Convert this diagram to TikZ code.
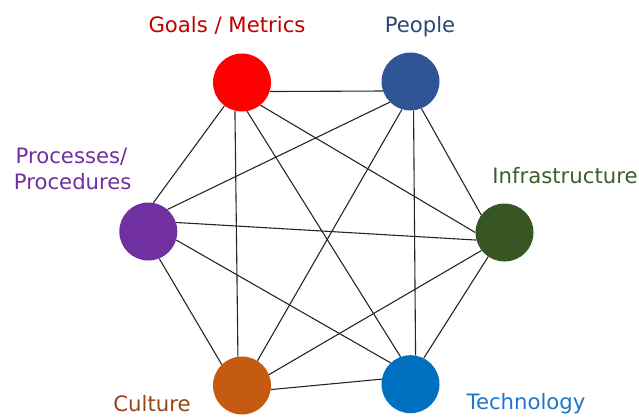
\documentclass[tikz,border=0pt]{standalone}
\usepackage{fontspec}
\setmainfont{DejaVu Sans}
\definecolor{cGoals}{HTML}{FF0000}
\definecolor{cPeople}{HTML}{2F5597}
\definecolor{cProc}{HTML}{7030A0}
\definecolor{cInfra}{HTML}{375623}
\definecolor{cCult}{HTML}{C55A11}
\definecolor{cTech}{HTML}{0070C0}
\definecolor{tGoals}{HTML}{C00000}
\definecolor{tPeople}{HTML}{2B4678}
\definecolor{tProc}{HTML}{7030A0}
\definecolor{tInfra}{HTML}{3D5E2A}
\definecolor{tCult}{HTML}{964618}
\definecolor{tTech}{HTML}{1A78C6}
\begin{document}
\begin{tikzpicture}[x=1pt,y=-1pt,
  dot/.style={circle,minimum size=58pt,inner sep=0pt,draw=none},
  lbl/.style={anchor=base,inner sep=0pt,font=\fontsize{21.2}{25}\selectfont},
  link/.style={draw=black!85,line width=1.1pt}]
\useasboundingbox (0,0) rectangle (639,416);
\node[dot,fill=cGoals]  (goals)  at (242,82.5) {};
\node[dot,fill=cPeople] (people) at (410.5,81.5) {};
\node[dot,fill=cProc]   (proc)   at (148.3,231.5) {};
\node[dot,fill=cInfra]  (infra)  at (504.5,232.5) {};
\node[dot,fill=cCult]   (cult)   at (242,385.5) {};
\node[dot,fill=cTech]   (tech)   at (410.5,384.2) {};
% labels
\node[lbl,text=tGoals]  (lgoals)  at (227,32) {Goals / Metrics};
\node[lbl,text=tPeople] (lpeople) at (420,32) {People};
\node[lbl,text=tProc]   (lprocA)  at (71.5,163.3) {Processes/};
\node[lbl,text=tProc]   (lprocB)  at (72.7,189) {Procedures};
\node[lbl,text=tInfra]  (linfra)  at (565,183.3) {Infrastructure};
\node[lbl,text=tCult]   (lcult)   at (152,411) {Culture};
\node[lbl,text=tTech]   (ltech)   at (526,409.5) {Technology};
% connectors
\draw[link] (goals.-18)   -- (people.199);
\draw[link] (goals.-51)   -- (infra.180);
\draw[link] (goals.-80)   -- (tech.110);
\draw[link] (goals.-104)  -- (cult.98);
\draw[link] (goals.-127)  -- (proc.80);
\draw[link] (people.-135) -- (proc.49);
\draw[link] (people.-107) -- (cult.58);
\draw[link] (people.-84)  -- (tech.80);
\draw[link] (people.-68)  -- (infra.143);
\draw[link] (proc.18)     -- (infra.195);
\draw[link] (proc.-17)    -- (tech.133);
\draw[link] (proc.-68)    -- (cult.134);
\draw[link] (cult.22)     -- (infra.218);
\draw[link] (cult.-8)     -- (tech.170);
\draw[link] (tech.63)     -- (infra.236);
\end{tikzpicture}
\end{document}
